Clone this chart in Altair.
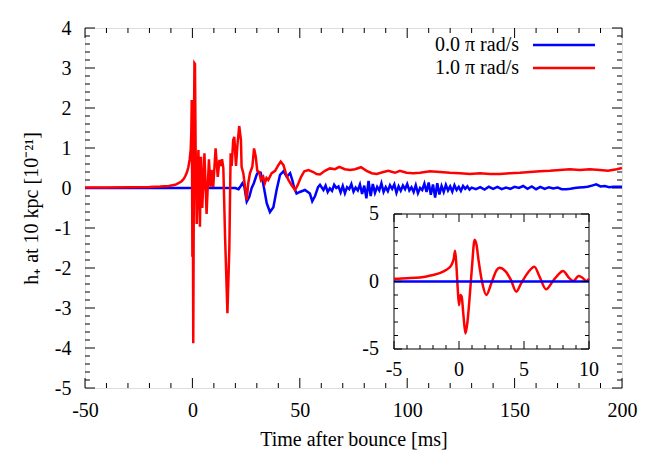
import altair as alt
import pandas as pd

# ---------------- data ----------------
series_labels = ["0.0 π rad/s", "1.0 π rad/s"]
series_colors = ["#0000ff", "#ff0000"]

blue_t = [-50, 15, 20, 21.5, 22.5, 23.3, 24.2, 25.3, 26.5, 27.6, 28.6, 29.9, 30.7, 31.8, 33.0,
          34.6, 36.1, 37.7, 39.2, 40.8, 42.4, 43.9, 45.5, 46.5, 47.4, 48.5, 50.0, 52.4, 54.7,
          55.8, 57.1, 58.5, 59.4,
          60, 61, 62, 63, 64, 65, 66, 67, 68, 69, 70, 71, 72, 73, 74, 75, 76, 77, 78, 79,
          80, 81, 82, 83, 84, 85, 86, 87, 88, 89, 90, 91, 92, 93, 94, 95, 96, 97, 98, 99,
          100, 101, 102, 103, 104, 105, 106, 107, 108, 109, 110, 111, 112, 113, 114, 115,
          116, 117, 118, 119, 120, 121, 122, 123, 124, 125, 126, 127, 128, 129, 130,
          132, 134, 136, 138, 140, 142, 144, 146, 148, 150, 152, 154, 156, 158, 160, 162,
          164, 166, 168, 170, 172, 174, 176, 178, 180, 182, 184, 186, 188, 190, 192, 194,
          196, 198, 200]
blue_v = [0, 0, 0, -0.03, 0.05, 0.12, 0.03, -0.34, -0.22, 0.0, 0.12, 0.33, 0.4, 0.38, 0.1,
          -0.38, -0.6, -0.48, -0.05, 0.33, 0.42, 0.28, 0.37, 0.2, 0.0, -0.14, -0.1, -0.05, -0.14,
          -0.33, -0.2, 0.02, 0.08,
          0.03, -0.05, 0.06, -0.1, -0.01, -0.07, 0.08, 0.0, 0.04, -0.11, 0.05, -0.13, 0.02, -0.03,
          0.1, -0.09, 0.01, -0.06, 0.09, -0.15,
          0.06, -0.26, 0.18, -0.2, 0.1, -0.12, 0.03, -0.06, 0.12, -0.1, 0.02, -0.08, 0.07, -0.02,
          0.09, -0.12, 0.04, -0.07, 0.06, -0.03,
          0.1, -0.06, 0.02, -0.1, 0.07, -0.13, 0.0, -0.05, 0.11, -0.1, 0.14, -0.17, 0.09, -0.24,
          0.12, -0.16,
          0.05, -0.1, 0.08, -0.06, 0.04, -0.09, 0.07, -0.05, 0.03, -0.07, 0.05, -0.02, 0.04, -0.04, 0.01,
          -0.03, 0.02, -0.04, 0.03, -0.02, 0.03, -0.03, 0.01, -0.02, 0.03, 0.0, 0.05, -0.02, 0.04,
          -0.03, 0.03,
          -0.02, 0.02, -0.01, 0.01, -0.03, -0.03, -0.02, 0.0, 0.01, 0.02, 0.03, 0.06, 0.09, 0.04,
          0.05, 0.02, 0.03, 0.03, 0.03]

red_t = [-50, -40, -30, -20, -15, -11, -8, -6.5, -5, -4, -3.3, -2.5, -1.9, -1.3, -0.8, -0.5,
         -0.3, -0.15, 0.0, 0.15, 0.25, 0.4, 0.6, 0.8, 0.95, 1.2, 1.5, 2.0, 2.8, 3.5, 4.0, 4.6,
         5.6, 6.6, 7.7, 8.4, 8.9, 9.7, 10.8, 11.8, 12.6, 13.2, 13.8, 14.4, 15.2, 16.3, 17.2,
         17.8, 18.3, 19.0, 19.5, 20.3, 21.0, 21.8, 22.6, 22.9, 23.7, 24.5, 25.3, 26.0, 26.8,
         27.9, 28.7, 29.5, 30.2, 31.1, 31.9, 33.0, 33.7, 34.5, 35.3, 36.9, 38.5, 40.0, 41.1,
         42.4, 43.5, 44.7, 46.2, 47.8, 49.0, 50.6, 52.1, 54.0, 56.3, 57.8, 59.4, 61.7, 64.0,
         66.4, 68.4, 71.0, 73.4, 75.7, 78.5, 81.1, 83.5, 85.8, 88.9, 91.2, 94.3, 96.6, 99.7,
         102.8, 106, 110.6, 115.3, 119.9, 124.6, 129.2, 133.9, 138.5, 143.2, 147.8, 152.5,
         157.1, 161.8, 166.4, 171.1, 175.7, 180.4, 185, 189.7, 193.5, 197.5, 200]
red_v = [0.01, 0.012, 0.018, 0.025, 0.035, 0.05, 0.08, 0.12, 0.17, 0.23, 0.3, 0.4, 0.52, 0.7,
         0.95, 1.4, 2.2, 0.5, -1.72, -0.9, -1.2, -3.88, -1.0, 2.0, 3.12, 3.1, 1.0, -0.9, 0.95,
         -0.97, 0.78, -0.5, 0.87, -0.65, 0.72, 0.03, 0.45, 0.03, 0.99, 0.28, 0.7, 0.55, 0.72,
         0.5, -1.2, -3.13, -1.5, 0.87, 0.55, 1.2, 1.28, 0.55, 1.1, 1.55, 1.2, 0.53, 0.37, 0.03,
         -0.3, 0.12, 0.37, 0.53, 0.99, 0.78, 0.43, 0.4, 0.2, 0.28, 0.12, 0.25, 0.2, 0.37, 0.43,
         0.57, 0.66, 0.57, 0.37, 0.2, 0.07, -0.05, 0.07, 0.28, 0.42, 0.45, 0.4, 0.35, 0.34,
         0.43, 0.49, 0.47, 0.53, 0.47, 0.45, 0.47, 0.52, 0.43, 0.37, 0.35, 0.4, 0.43, 0.38,
         0.43, 0.38, 0.37, 0.38, 0.42, 0.4, 0.38, 0.37, 0.35, 0.37, 0.35, 0.35, 0.37, 0.38,
         0.4, 0.42, 0.43, 0.45, 0.47, 0.45, 0.47, 0.45, 0.43, 0.47, 0.5]

inset_red_t = [-5, -4, -3, -2.5, -2, -1.5, -1, -0.6, -0.4, -0.3, -0.2, -0.1, 0.0, 0.1, 0.2,
               0.35, 0.5, 0.65, 0.8, 1.0, 1.2, 1.35, 1.5, 1.8, 2.1, 2.5, 2.9, 3.1, 3.6, 4.0,
               4.4, 4.8, 5.3, 5.8, 6.2, 6.7, 7.2, 7.6, 8.0, 8.5, 8.8, 9.2, 9.5, 9.8, 10]
inset_red_v = [0.2, 0.24, 0.3, 0.37, 0.48, 0.62, 0.85, 1.2, 1.7, 2.28, 1.2, -0.5, -1.75, -1.0,
               -1.1, -2.6, -3.85, -3.0, -1.4, 1.1, 3.1, 2.7, 1.6, -0.15, -1.0, -0.1, 0.85, 1.02,
               0.73, 0.1, -0.75, -0.1, 0.65, 1.1, 0.35, -0.58, 0.0, 0.48, 0.78, 0.23, 0.04, 0.4,
               0.28, 0.04, 0.2]
inset_blue_t = [-5, 10]
inset_blue_v = [0, 0]

x_major = [-50, 0, 50, 100, 150, 200]
x_minor = [v for v in range(-50, 201, 10) if v % 50 != 0]
y_major = [-5, -4, -3, -2, -1, 0, 1, 2, 3, 4]
y_minor = [round(i * 0.2 - 5, 1) for i in range(46) if i % 5 != 0]
inset_x_major = [-5, 0, 5, 10]
inset_x_minor = [-4, -3, -2, -1, 1, 2, 3, 4, 6, 7, 8, 9]
inset_y_major = [-5, 0, 5]
inset_y_minor = [-4, -3, -2, -1, 1, 2, 3, 4]

# ---------------- layout ----------------
W, H = 537, 360
FONT = "Liberation Serif"
FS = 20
IX0, IX1, IY0, IY1 = 309, 504, 186, 321   # inset frame (pixels inside plot area)

xs = alt.Scale(domain=[-50, 200], nice=False, zero=False)
ys = alt.Scale(domain=[-5, 4], nice=False, zero=False)
x_axis = alt.Axis(values=x_major, ticks=False, domain=False, grid=False,
                  labelExpr="'' + datum.value", labelFont=FONT, labelFontSize=FS,
                  labelColor="black", labelPadding=12, labelFlush=False, labelOverlap=False,
                  title="Time after bounce [ms]", titleFont=FONT, titleFontSize=FS,
                  titleFontWeight="normal", titleColor="black", titlePadding=9)
y_axis = alt.Axis(values=y_major, ticks=False, domain=False, grid=False,
                  labelExpr="'' + datum.value", labelFont=FONT, labelFontSize=FS,
                  labelColor="black", labelPadding=14, labelFlush=False, labelOverlap=False,
                  title="h₊ at 10 kpc [10⁻²¹]", titleFont=FONT, titleFontSize=FS,
                  titleFontWeight="normal", titleColor="black", titlePadding=13)
X = lambda: alt.X("t:Q", scale=xs, axis=x_axis)
Y = lambda: alt.Y("v:Q", scale=ys, axis=y_axis)

df_blue = pd.DataFrame({"t": blue_t, "v": blue_v})
df_red = pd.DataFrame({"t": red_t, "v": red_v})

blue = alt.Chart(df_blue).mark_line(color=series_colors[0], strokeWidth=2.5).encode(x=X(), y=Y())
red = alt.Chart(df_red).mark_line(color=series_colors[1], strokeWidth=2.5).encode(x=X(), y=Y())


def xticks(vals, length):
    d = pd.DataFrame({"t": vals})
    bot = alt.Chart(d).mark_rule(color="black", strokeWidth=1).encode(
        x=X(), y=alt.value(H), y2=alt.value(H - length))
    top = alt.Chart(d).mark_rule(color="black", strokeWidth=1).encode(
        x=X(), y=alt.value(0), y2=alt.value(length))
    return [bot, top]


def yticks(vals, length):
    d = pd.DataFrame({"v": vals})
    left = alt.Chart(d).mark_rule(color="black", strokeWidth=1).encode(
        y=Y(), x=alt.value(0), x2=alt.value(length))
    right = alt.Chart(d).mark_rule(color="black", strokeWidth=1).encode(
        y=Y(), x=alt.value(W), x2=alt.value(W - length))
    return [left, right]


one = pd.DataFrame({"a": [0]})
legend = []
for i, (lab, col) in enumerate(zip(series_labels, series_colors)):
    yy = 17 + 23 * i
    legend.append(alt.Chart(one).mark_text(align="right", baseline="middle", font=FONT,
                                           fontSize=FS, color="black").encode(
        x=alt.value(434), y=alt.value(yy), text=alt.value(lab)))
    legend.append(alt.Chart(one).mark_rule(color=col, strokeWidth=2.5).encode(
        x=alt.value(448), x2=alt.value(510), y=alt.value(yy)))

main = alt.layer(*xticks(x_major, 10), *xticks(x_minor, 5),
                 *yticks(y_major, 10), *yticks(y_minor, 5),
                 blue, red, *legend)

# ---------------- inset ----------------
isx = alt.Scale(domain=[-5, 10], range=[IX0, IX1], nice=False, zero=False)
isy = alt.Scale(domain=[-5, 5], range=[IY1, IY0], nice=False, zero=False)
IXe = lambda: alt.X("t:Q", scale=isx, axis=None)
IYe = lambda: alt.Y("v:Q", scale=isy, axis=None)

bg = alt.Chart(one).mark_rect(fill="white", stroke="black", strokeWidth=1).encode(
    x=alt.value(IX0), x2=alt.value(IX1), y=alt.value(IY0), y2=alt.value(IY1))

ired = alt.Chart(pd.DataFrame({"t": inset_red_t, "v": inset_red_v})).mark_line(
    color=series_colors[1], strokeWidth=2.5, interpolate="monotone").encode(x=IXe(), y=IYe())
iblue = alt.Chart(pd.DataFrame({"t": inset_blue_t, "v": inset_blue_v})).mark_line(
    color=series_colors[0], strokeWidth=2.5).encode(x=IXe(), y=IYe())


def ixticks(vals, length):
    d = pd.DataFrame({"t": vals})
    return [alt.Chart(d).mark_rule(color="black", strokeWidth=1).encode(
                x=IXe(), y=alt.value(IY1), y2=alt.value(IY1 - length)),
            alt.Chart(d).mark_rule(color="black", strokeWidth=1).encode(
                x=IXe(), y=alt.value(IY0), y2=alt.value(IY0 + length))]


def iyticks(vals, length):
    d = pd.DataFrame({"v": vals})
    return [alt.Chart(d).mark_rule(color="black", strokeWidth=1).encode(
                y=IYe(), x=alt.value(IX0), x2=alt.value(IX0 + length)),
            alt.Chart(d).mark_rule(color="black", strokeWidth=1).encode(
                y=IYe(), x=alt.value(IX1), x2=alt.value(IX1 - length))]


ixl = alt.Chart(pd.DataFrame({"t": inset_x_major, "lab": [str(v) for v in inset_x_major]})).mark_text(
    align="center", baseline="middle", font=FONT, fontSize=FS, color="black").encode(
    x=IXe(), y=alt.value(IY1 + 21), text="lab:N")
iyl = alt.Chart(pd.DataFrame({"v": inset_y_major, "lab": [str(v) for v in inset_y_major]})).mark_text(
    align="right", baseline="middle", font=FONT, fontSize=FS, color="black").encode(
    y=IYe(), x=alt.value(IX0 - 15), text="lab:N")

inset = alt.layer(bg, ired, iblue, *ixticks(inset_x_major, 8), *ixticks(inset_x_minor, 4),
                  *iyticks(inset_y_major, 8), *iyticks(inset_y_minor, 4), ixl, iyl)

chart = alt.layer(main, inset).resolve_scale(x="independent", y="independent").properties(
    width=W, height=H,
    padding={"left": 77, "top": 20, "right": 34, "bottom": 69},
    autosize=alt.AutoSizeParams(type="none"),
).configure_view(stroke="black", strokeWidth=1).configure(background="white")

chart.save("out.html", embed_options={"renderer": "svg", "actions": False})
